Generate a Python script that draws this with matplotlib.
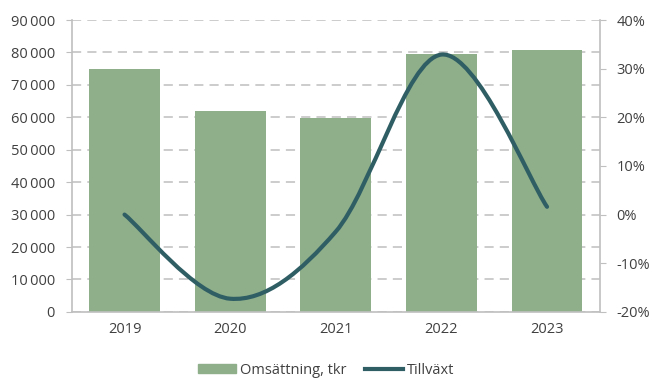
import matplotlib.pyplot as plt
from matplotlib.path import Path
from matplotlib.patches import PathPatch, Patch
from matplotlib.lines import Line2D
from matplotlib.ticker import FuncFormatter, MultipleLocator

plt.rcParams['font.family'] = ['Open Sans', 'DejaVu Sans']

# Omsättning (tkr) och tillväxt per år
years = ['2019', '2020', '2021', '2022', '2023']
revenue = [75000, 62000, 59800, 79500, 80800]
growth = [0.0, -0.173, -0.035, 0.329, 0.016]

bar_color = '#8faf8a'
line_color = '#2f5e65'
grid_color = '#bfbfbf'
text_color = '#404040'

fig = plt.figure(figsize=(6.52, 3.78), dpi=100)
ax = fig.add_axes([0.110, 0.175, 0.810, 0.772])
x = list(range(len(years)))
ax.bar(x, revenue, width=0.67, color=bar_color, zorder=2)
ax.set_xlim(-0.5, len(years) - 0.5)
ax.set_ylim(0, 90000)
ax.yaxis.set_major_locator(MultipleLocator(10000))
ax.yaxis.set_major_formatter(FuncFormatter(lambda v, p: f'{int(v):,}'.replace(',', '\u2009')))
ax.grid(axis='y', color=grid_color, linestyle=(0, (6, 4)), linewidth=1.1, zorder=0)
ax.set_xticks(x)
ax.set_xticklabels(years)

for s in ['top', 'right']:
    ax.spines[s].set_visible(False)
for s in ['left', 'bottom']:
    ax.spines[s].set_color(grid_color)
    ax.spines[s].set_linewidth(1.2)
ax.tick_params(axis='y', length=4, color=grid_color, labelsize=10.5, labelcolor=text_color, pad=8)
ax.tick_params(axis='x', length=0, labelsize=10.5, labelcolor=text_color, pad=7)

ax2 = ax.twinx()
ax2.set_ylim(-0.2, 0.4)
ax2.yaxis.set_major_locator(MultipleLocator(0.1))
ax2.yaxis.set_major_formatter(FuncFormatter(lambda v, p: f'{v * 100:.0f}%'))
for s in ['top', 'left', 'bottom']:
    ax2.spines[s].set_visible(False)
ax2.spines['right'].set_color(grid_color)
ax2.spines['right'].set_linewidth(1.2)
ax2.tick_params(axis='y', length=4, color=grid_color, labelsize=10.5, labelcolor=text_color, pad=8)

# Utjämnad linje med Bezier-segment (Catmull-Rom)
pts = list(zip(x, growth))
verts = [pts[0]]
codes = [Path.MOVETO]
n = len(pts)
for i in range(n - 1):
    p0 = pts[max(i - 1, 0)]
    p1 = pts[i]
    p2 = pts[i + 1]
    p3 = pts[min(i + 2, n - 1)]
    c1 = (p1[0] + (p2[0] - p0[0]) / 6, p1[1] + (p2[1] - p0[1]) / 6)
    c2 = (p2[0] - (p3[0] - p1[0]) / 6, p2[1] - (p3[1] - p1[1]) / 6)
    verts += [c1, c2, p2]
    codes += [Path.CURVE4] * 3
ax2.add_patch(PathPatch(Path(verts, codes), facecolor='none', edgecolor=line_color,
                        linewidth=3, capstyle='round', joinstyle='round', zorder=3))

handles = [Patch(color=bar_color), Line2D([], [], color=line_color, linewidth=3)]
fig.legend(handles, ['Omsättning, tkr', 'Tillväxt'], loc='center',
           bbox_to_anchor=(0.5, 0.02), ncol=2, frameon=False, fontsize=10.5,
           labelcolor=text_color, handlelength=2.6, handleheight=0.6,
           handletextpad=0.25, columnspacing=1.3, borderpad=0)

fig.savefig('out.png', dpi=100)
